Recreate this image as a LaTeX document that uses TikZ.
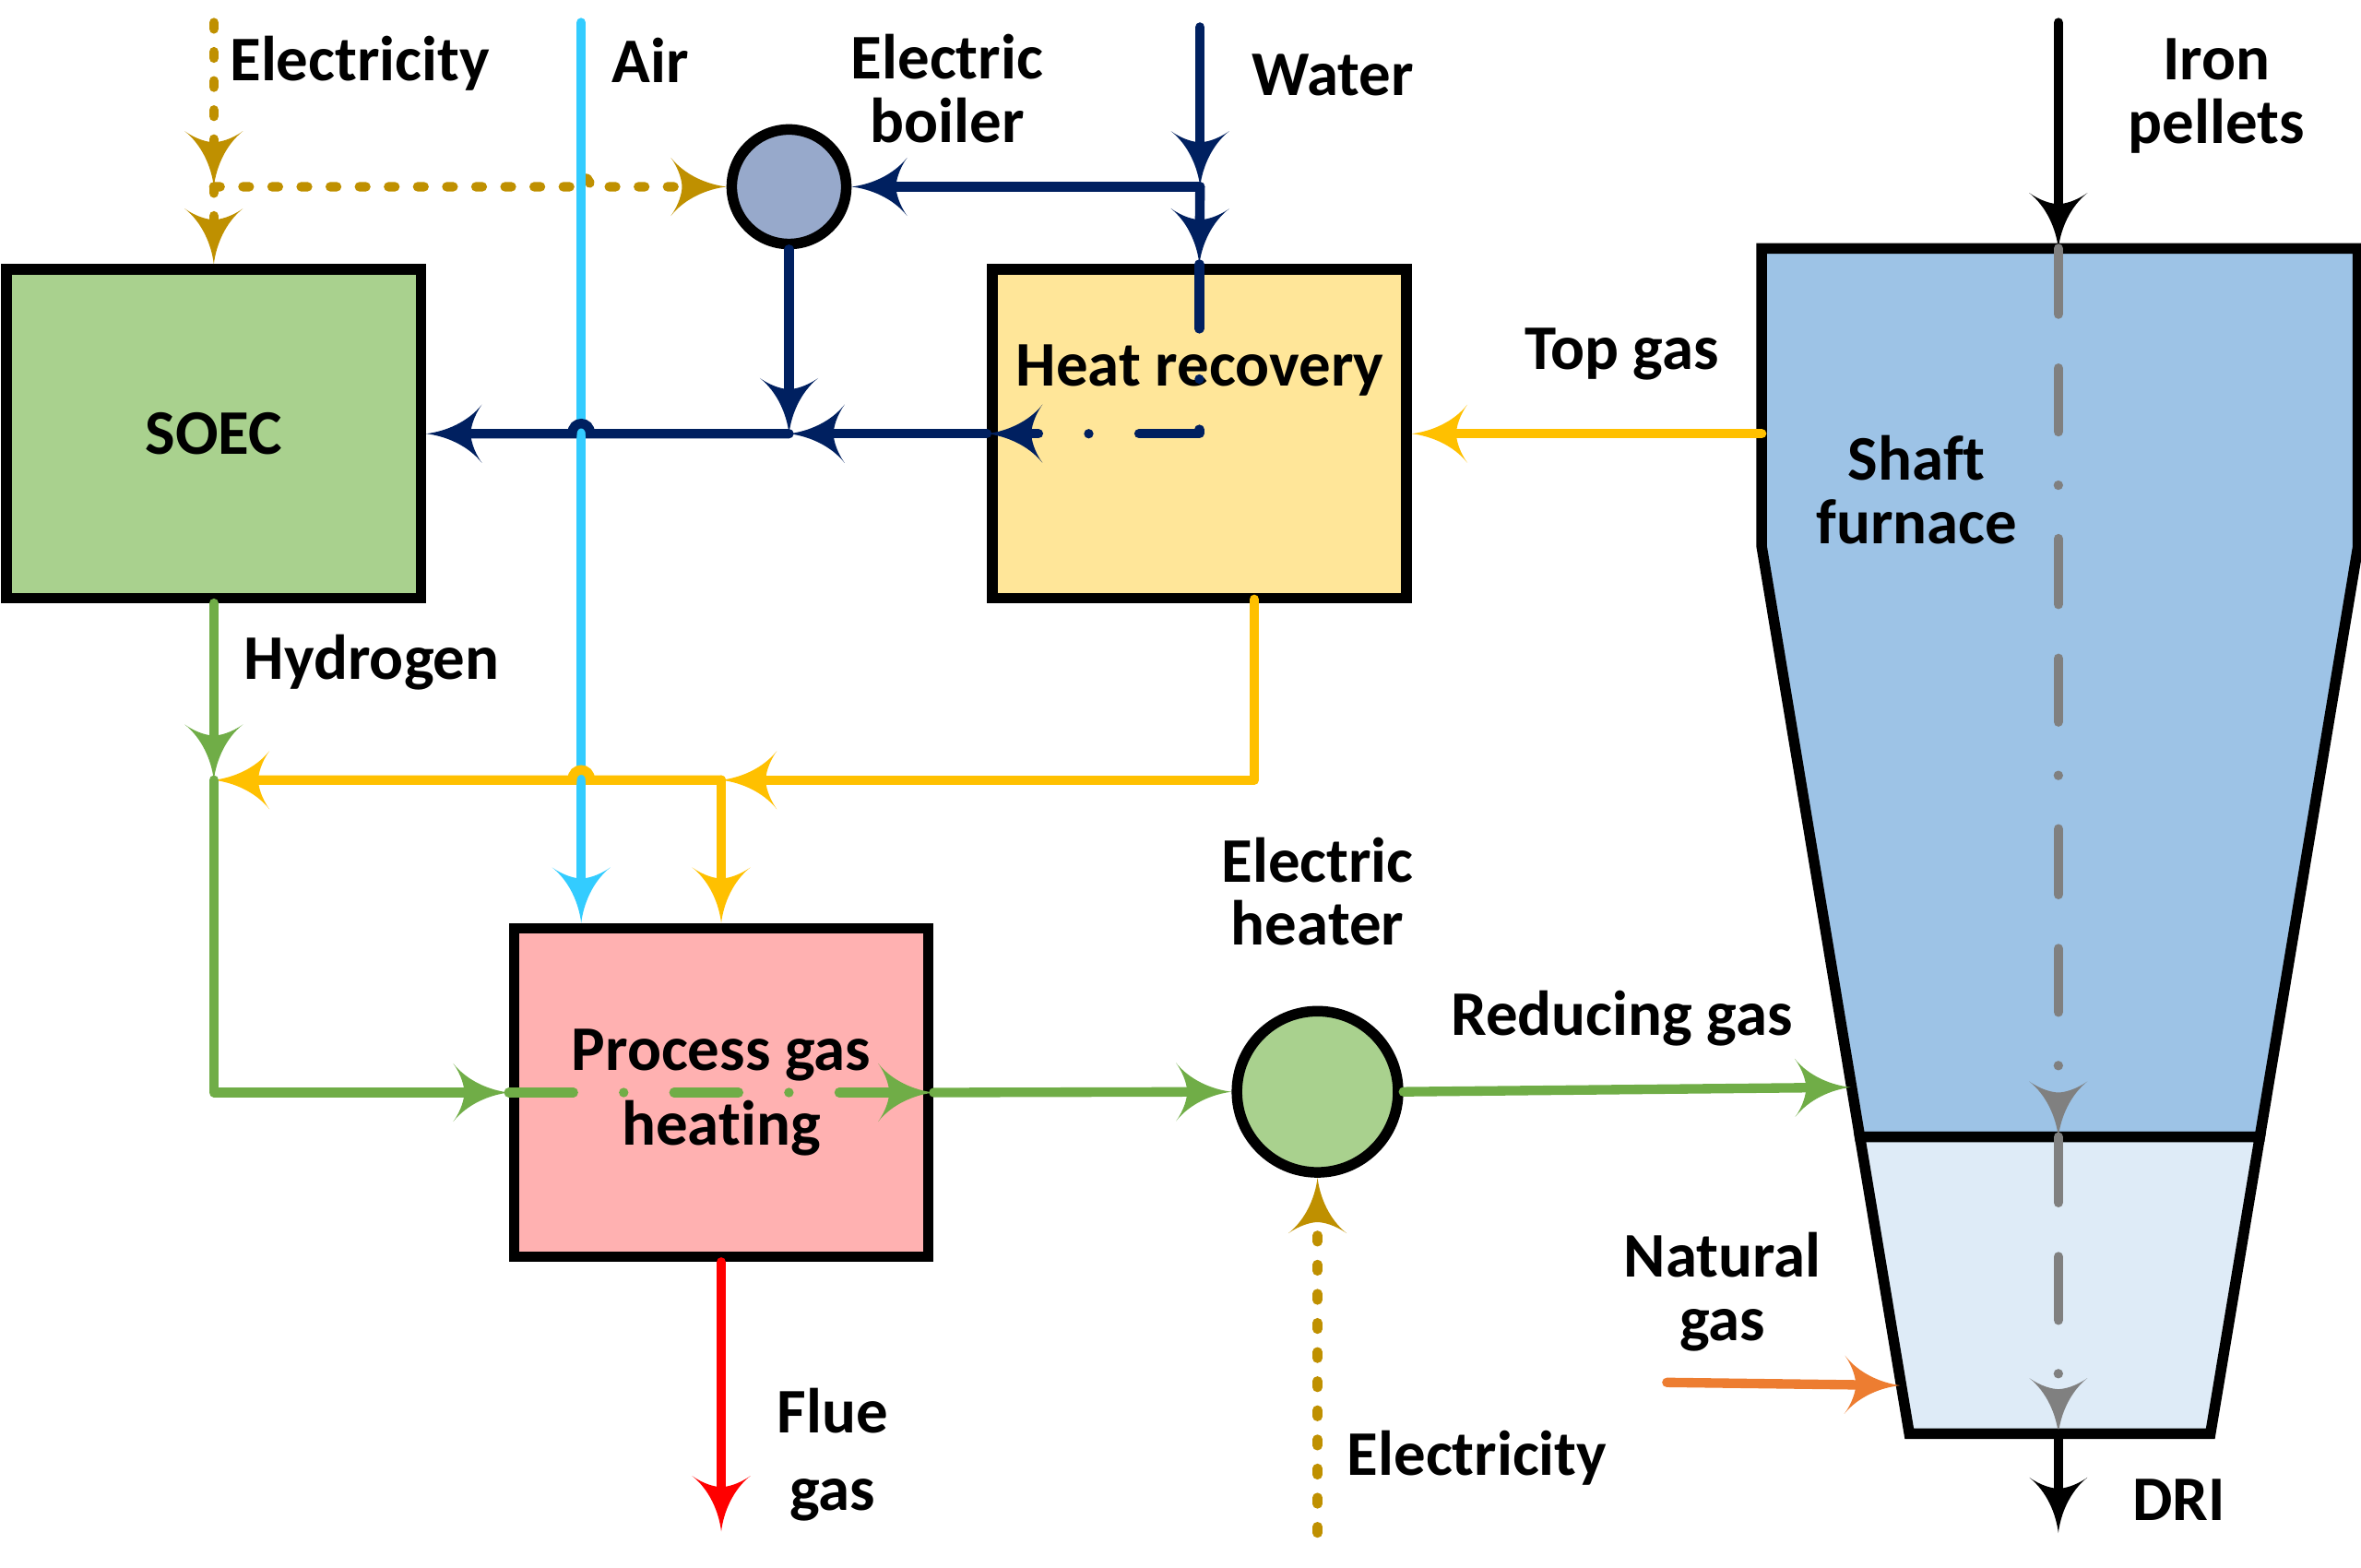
\documentclass[tikz,border=0pt]{standalone}
\usepackage{fontspec}
\setmainfont[Ligatures=NoCommon]{Carlito}
\usetikzlibrary{arrows.meta,calc}

\definecolor{cElec}{HTML}{BF9000}
\definecolor{cAir}{HTML}{33CCFF}
\definecolor{cNavy}{HTML}{002060}
\definecolor{cYel}{HTML}{FFC000}
\definecolor{cGreen}{HTML}{70AD47}
\definecolor{cOrange}{HTML}{ED7D31}
\definecolor{cRed}{HTML}{FF0000}
\definecolor{cGray}{HTML}{808080}
\definecolor{fSoec}{HTML}{A9D18E}
\definecolor{fHr}{HTML}{FFE699}
\definecolor{fPg}{HTML}{FFB1B1}
\definecolor{fBoil}{HTML}{97A9CB}
\definecolor{fUp}{HTML}{9DC3E6}
\definecolor{fLow}{HTML}{DEEBF7}

\pgfdeclarearrow{
  name = Swept,
  parameters = {\the\pgfarrowlength,\the\pgfarrowwidth},
  setup code = {
    \pgfarrowssettipend{0pt}
    \pgfarrowssetbackend{-\pgfarrowlength}
    \pgfarrowssetlineend{-0.75\pgfarrowlength}
    \pgfarrowshullpoint{0pt}{0pt}
    \pgfarrowsupperhullpoint{-\pgfarrowlength}{0.5\pgfarrowwidth}
    \pgfarrowssavethe\pgfarrowlength
    \pgfarrowssavethe\pgfarrowwidth
  },
  drawing code = {
    \pgfpathmoveto{\pgfpointorigin}
    \pgfpathcurveto{\pgfpoint{-0.35\pgfarrowlength}{0.04\pgfarrowwidth}}{\pgfpoint{-0.75\pgfarrowlength}{0.2\pgfarrowwidth}}{\pgfpoint{-\pgfarrowlength}{0.5\pgfarrowwidth}}
    \pgfpathcurveto{\pgfpoint{-0.85\pgfarrowlength}{0.3\pgfarrowwidth}}{\pgfpoint{-0.8\pgfarrowlength}{0.1\pgfarrowwidth}}{\pgfpoint{-0.8\pgfarrowlength}{0pt}}
    \pgfpathcurveto{\pgfpoint{-0.8\pgfarrowlength}{-0.1\pgfarrowwidth}}{\pgfpoint{-0.85\pgfarrowlength}{-0.3\pgfarrowwidth}}{\pgfpoint{-\pgfarrowlength}{-0.5\pgfarrowwidth}}
    \pgfpathcurveto{\pgfpoint{-0.75\pgfarrowlength}{-0.2\pgfarrowwidth}}{\pgfpoint{-0.35\pgfarrowlength}{-0.04\pgfarrowwidth}}{\pgfpointorigin}
    \pgfpathclose
    \pgfusepathqfill
  },
  defaults = {length = 10.5pt, width = 11pt}
}

\begin{document}
\begin{tikzpicture}[x=0.01cm,y=-0.01cm,
  pbox/.style={draw=black,line width=2pt,minimum width=2.75cm,minimum height=2.18cm,inner sep=0pt,
    font=\bfseries\fontsize{12}{12}\selectfont,align=center},
  punit/.style={circle,draw=black,line width=2pt,inner sep=0pt},
  lbl/.style={font=\bfseries\fontsize{12}{12}\selectfont,align=center,inner sep=0pt},
  flow/.style={line width=1.8pt,line cap=round,-{Swept[length=10.5pt,width=11pt]}},
  dotline/.style={dash pattern=on 1.2pt off 4.3pt},
  ddline/.style={dash pattern=on 12.2pt off 9.5pt on 0pt off 9.5pt},
  grayline/.style={dash pattern=on 12.4pt off 10.2pt on 12pt off 10.1pt on 0pt off 10.1pt},
]
\useasboundingbox (0,0) rectangle (1568,1041);

% shaft furnace
\draw[line width=2pt,fill=fUp] (1170,165) -- (1566,165) -- (1566,363) -- (1500.8,755) -- (1235.2,755) -- (1170,363) -- cycle;
\draw[line width=2pt,fill=fLow] (1235.2,755) -- (1500.8,755) -- (1468,952) -- (1268,952) -- cycle;
\node[lbl] (furnlbl) at (1273,325) {Shaft\\furnace};

% units
\node[pbox,fill=fSoec] (soec) at (142,288) {SOEC};
\node[pbox,fill=fHr] (hr) at (796.5,288) {};
\node[lbl] (hrlbl) at (797,246) {Heat recovery};
\node[pbox,fill=fPg,font=\bfseries\fontsize{12}{14.2}\selectfont] (pg) at (479,725.5) {Process gas\\heating};
\node[punit,fill=fBoil,minimum size=0.76cm] (boiler) at (524,124) {};
\node[punit,fill=fSoec,minimum size=1.07cm] (heater) at (875,725) {};

% coordinates
\coordinate (elsrc) at (142,15);
\coordinate (eljn) at (142,124);
\coordinate (airsrc) at (386,15);
\coordinate (watsrc) at (797,18);
\coordinate (watjn) at (797,124);
\coordinate (stjn) at (524,288);
\coordinate (hrbot) at (833,398);
\coordinate (ycorner) at (833,518);
\coordinate (yjn) at (479,518);
\coordinate (gjn) at (142,518);
\coordinate (gcorner) at (142,725.5);
\coordinate (ftop) at (1367,165);
\coordinate (fsep) at (1367,755);
\coordinate (fbot) at (1367,952);
\coordinate (ironin) at (1367,15);
\coordinate (driout) at (1367,1018);
\coordinate (topgas) at (1170,288);
\coordinate (redin) at (1229,722);
\coordinate (ngstart) at (1107,918);
\coordinate (ngin) at (1262,920);
\coordinate (el2src) at (875,1018);
\coordinate (flue) at (479,1017);

% electricity (top)
\draw[flow,cElec,dotline] (elsrc) -- (eljn);
\draw[flow,cElec,dotline] (eljn) -- (soec.north);
\draw[flow,cElec,dotline] (eljn) -- (380,124) .. controls (380,115) and (392,115) .. (392,124) -- (boiler.west);

% air
\draw[flow,cAir] (airsrc) -- (airsrc |- pg.north);

% water / steam
\draw[flow,cNavy] (watsrc) -- (watjn);
\draw[flow,cNavy] (watjn) -- (hr.north);
\draw[flow,cNavy] (watjn) -- (boiler.east);
\draw[flow,cNavy,ddline,line join=round] (hr.north) -- (hr.center) -- (hr.west);
\draw[flow,cNavy] (boiler.south) -- (stjn);
\draw[flow,cNavy] (hr.west) -- (stjn);
\draw[flow,cNavy] (stjn) -- (392,288) .. controls (392,279) and (380,279) .. (380,288) -- (soec.east);

% top gas and recovered heat
\draw[flow,cYel] (topgas) -- (hr.east);
\draw[flow,cYel,line join=round] (hrbot) -- (ycorner) -- (yjn);
\draw[flow,cYel] (yjn) -- (pg.north);
\draw[flow,cYel] (yjn) -- (392,518) .. controls (392,509) and (380,509) .. (380,518) -- (gjn);

% hydrogen / process gas
\draw[flow,cGreen] (soec.south) -- (gjn);
\draw[flow,cGreen,line join=round] (gjn) -- (gcorner) -- (pg.west);
\draw[flow,cGreen,ddline] (pg.west) -- (pg.east);
\draw[flow,cGreen] (pg.east) -- (heater.west);
\draw[flow,cGreen] (heater.east) -- (redin);

% electricity (bottom)
\draw[flow,cElec,dotline] (el2src) -- (heater.south);

% flue gas, natural gas
\draw[flow,cRed] (pg.south) -- (flue);
\draw[flow,cOrange] (ngstart) -- (ngin);

% furnace flows
\draw[flow,black] (ironin) -- (ftop);
\draw[flow,cGray,grayline] (ftop) -- (fsep);
\draw[flow,cGray,grayline] (fsep) -- (fbot);
\draw[flow,black] (fbot) -- (driout);

% labels
\node[lbl] (lElec1) at (239,42) {Electricity};
\node[lbl] (lAir) at (432,40) {Air};
\node[lbl] (lBoil) at (629,59) {Electric\\boiler};
\node[lbl] (lWater) at (885,50) {Water};
\node[lbl] (lIron) at (1472,64) {Iron\\pellets};
\node[lbl] (lTop) at (1077,235) {Top gas};
\node[lbl] (lH2) at (247,440) {Hydrogen};
\node[lbl] (lHeat) at (875,592) {Electric\\heater};
\node[lbl] (lRed) at (1077,676) {Reducing gas};
\node[lbl] (lNG) at (1144,858) {Natural\\gas};
\node[lbl,font=\bfseries\fontsize{12}{14.8}\selectfont] (lFlue) at (553,966) {Flue\\gas};
\node[lbl] (lElec2) at (981,968) {Electricity};
\node[lbl] (lDRI) at (1447,996) {DRI};
\end{tikzpicture}
\end{document}
